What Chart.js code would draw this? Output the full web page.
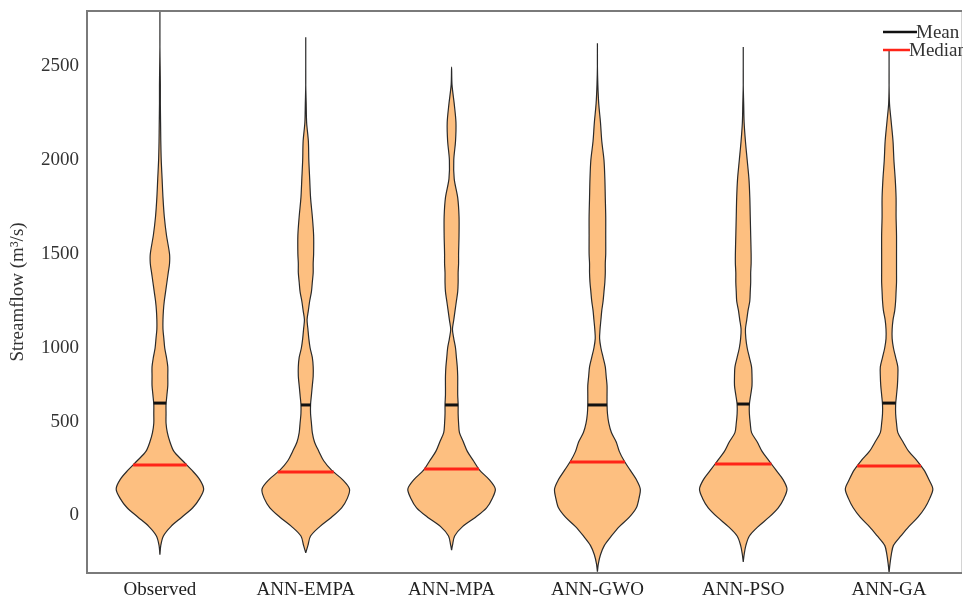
<!DOCTYPE html>
<html>
<head>
<meta charset="utf-8">
<title>Streamflow violin plot</title>
<script src="https://cdn.jsdelivr.net/npm/chart.js@4.4.1/dist/chart.umd.min.js"></script>
<style>
    body { margin: 0; background: #fff; }
    #wrap { width: 963px; height: 603px; }
</style>
</head>
<body>
<div id="wrap"><canvas id="violinChart" width="963" height="603"></canvas></div>
<script>
// models along the x axis
const categories = ['Observed', 'ANN-EMPA', 'ANN-MPA', 'ANN-GWO', 'ANN-PSO', 'ANN-GA'];

// streamflow levels (m3/s) at which the violin width was read
const levels = [
    -200, -150, -100, -50, 0, 50, 100, 150,
    200, 250, 300, 350, 400, 450, 500, 550,
    600, 650, 700, 750, 800, 850, 900, 950,
    1000, 1050, 1100, 1150, 1200, 1250, 1300, 1350,
    1400, 1450, 1500, 1600, 1700, 1800, 1900, 2000,
    2100, 2200, 2300, 2400, 2500, 2600, 2700, 2800
];

// relative density at each level (1 = widest part of the violin)
const densityObserved = [
    0, 0, 0, 0.02, 0.08, 0.25, 0.50, 0.75,
    0.91, 1.00, 0.91, 0.73, 0.52, 0.32, 0.23, 0.17,
    0.14, 0.14, 0.14, 0.16, 0.18, 0.18, 0.18, 0.15,
    0.11, 0.09, 0.07, 0.07, 0.08, 0.10, 0.13, 0.16,
    0.19, 0.22, 0.22, 0.15, 0.10, 0.07, 0.05, 0.03,
    0.02, 0.015, 0.01, 0.01, 0.005, 0, 0, 0
];
const densityEMPA = [
    0, 0, 0, 0.05, 0.11, 0.32, 0.59, 0.82,
    0.95, 1.00, 0.84, 0.59, 0.41, 0.30, 0.20, 0.15,
    0.13, 0.11, 0.11, 0.13, 0.15, 0.17, 0.17, 0.15,
    0.10, 0.07, 0.05, 0.03, 0.06, 0.09, 0.13, 0.15,
    0.17, 0.17, 0.18, 0.18, 0.15, 0.11, 0.09, 0.07,
    0.06, 0.02, 0.01, 0, 0, 0, 0, 0
];
const densityMPA = [
    0, 0, 0, 0.02, 0.07, 0.25, 0.55, 0.80,
    0.93, 1.00, 0.86, 0.64, 0.50, 0.36, 0.27, 0.18,
    0.16, 0.15, 0.15, 0.14, 0.14, 0.14, 0.13, 0.11,
    0.09, 0.05, 0.02, 0.05, 0.08, 0.11, 0.14, 0.15,
    0.15, 0.16, 0.16, 0.17, 0.17, 0.14, 0.06, 0.05,
    0.09, 0.10, 0.06, 0.01, 0, 0, 0, 0
];
const densityGWO = [
    0, 0.02, 0.07, 0.16, 0.32, 0.50, 0.73, 0.89,
    0.95, 0.98, 0.89, 0.75, 0.61, 0.50, 0.43, 0.32,
    0.26, 0.23, 0.22, 0.22, 0.22, 0.20, 0.18, 0.13,
    0.08, 0.05, 0.06, 0.08, 0.10, 0.13, 0.15, 0.17,
    0.18, 0.18, 0.19, 0.19, 0.19, 0.18, 0.17, 0.15,
    0.10, 0.07, 0.03, 0.01, 0, 0, 0, 0
];
const densityPSO = [
    0, 0, 0.02, 0.06, 0.14, 0.34, 0.59, 0.80,
    0.93, 1.00, 0.91, 0.75, 0.59, 0.43, 0.32, 0.19,
    0.16, 0.14, 0.14, 0.17, 0.20, 0.20, 0.19, 0.14,
    0.09, 0.06, 0.05, 0.08, 0.11, 0.15, 0.16, 0.17,
    0.17, 0.18, 0.18, 0.17, 0.16, 0.15, 0.13, 0.09,
    0.05, 0.02, 0.01, 0, 0, 0, 0, 0
];
const densityGA = [
    0, 0.02, 0.05, 0.10, 0.27, 0.45, 0.66, 0.82,
    0.93, 1.00, 0.91, 0.80, 0.64, 0.45, 0.32, 0.20,
    0.17, 0.15, 0.15, 0.17, 0.19, 0.20, 0.20, 0.15,
    0.10, 0.07, 0.07, 0.09, 0.13, 0.15, 0.16, 0.17,
    0.17, 0.17, 0.17, 0.17, 0.16, 0.16, 0.14, 0.11,
    0.09, 0.05, 0.01, 0, 0, 0, 0, 0
];

// tails, mean and median of each model
const minValues = [-100, -90, -75, -190, -138, -195];
const maxValues = [2800, 2654, 2495, 2622, 2601, 2585];
const meanValues = [707, 697, 697, 697, 702, 707];
const medianValues = [378, 340, 356, 394, 383, 372];

// y tick labels, placed where the figure prints them
const yTickValues = [112, 606, 1000, 1500, 2000, 2500];
const yTickLabels = ['0', '500', '1000', '1500', '2000', '2500'];

const legendLabels = ['Mean', 'Median'];

const densities = [densityObserved, densityEMPA, densityMPA, densityGWO, densityPSO, densityGA];
const HALF_WIDTH = 0.30;   // x-axis units for density 1
const FONT = '"Liberation Serif", "Times New Roman", serif';

function widthAt(dens, v) {
    for (let k = 0; k < levels.length - 1; k++) {
        if (v >= levels[k] && v <= levels[k + 1]) {
            const t = (v - levels[k]) / (levels[k + 1] - levels[k]);
            return (dens[k] + t * (dens[k + 1] - dens[k])) * HALF_WIDTH;
        }
    }
    return 0;
}

function violinOutline(i) {
    const dens = densities[i];
    const inner = levels
        .map((v, k) => ({ v: v, w: dens[k] * HALF_WIDTH }))
        .filter(p => p.v > minValues[i] && p.v < maxValues[i]);
    const right = inner.map(p => ({ x: i + p.w, y: p.v }));
    const left = inner.slice().reverse().map(p => ({ x: i - p.w, y: p.v }));
    return [{ x: i, y: minValues[i] }, ...right, { x: i, y: maxValues[i] }, ...left, { x: i, y: minValues[i] }];
}

function statLine(i, value, color) {
    const w = widthAt(densities[i], value);
    return {
        data: [{ x: i - w, y: value }, { x: i + w, y: value }],
        borderColor: color,
        borderWidth: 3,
        pointRadius: 0,
        fill: false,
        order: 1
    };
}

const datasets = [];
categories.forEach((name, i) => {
    datasets.push({
        label: name,
        data: violinOutline(i),
        borderColor: '#2a2a2a',
        borderWidth: 1.2,
        backgroundColor: '#FDBF80',
        fill: 'shape',
        tension: 0.3,
        pointRadius: 0,
        order: 2
    });
});
categories.forEach((name, i) => {
    datasets.push(statLine(i, meanValues[i], '#111111'));
    datasets.push(statLine(i, medianValues[i], '#FF2418'));
});

// frame around the plot and the small legend in the corner
const framePlugin = {
    id: 'frame',
    afterDraw(chart) {
        const { ctx, chartArea: a } = chart;
        ctx.save();
        ctx.strokeStyle = '#d4d4d4';
        ctx.lineWidth = 1;
        ctx.beginPath();
        ctx.moveTo(a.right - 0.5, a.top);
        ctx.lineTo(a.right - 0.5, a.bottom);
        ctx.stroke();
        ctx.strokeStyle = '#7a7a7a';
        ctx.lineWidth = 2;
        ctx.beginPath();
        ctx.moveTo(a.right, a.top);
        ctx.lineTo(a.left, a.top);
        ctx.lineTo(a.left, a.bottom);
        ctx.lineTo(a.right, a.bottom);
        ctx.stroke();

        const colors = ['#111111', '#FF2418'];
        const lineEnds = [a.right - 45, a.right - 52];
        ctx.font = '19px ' + FONT;
        ctx.textBaseline = 'middle';
        legendLabels.forEach((lab, k) => {
            const y = a.top + 21 + k * 18;
            ctx.strokeStyle = colors[k];
            ctx.lineWidth = 2.5;
            ctx.beginPath();
            ctx.moveTo(a.right - 79, y);
            ctx.lineTo(lineEnds[k], y);
            ctx.stroke();
            ctx.fillStyle = '#333';
            ctx.fillText(lab, lineEnds[k] - 1, y + 1);
        });
        ctx.restore();
    }
};

new Chart(document.getElementById('violinChart'), {
    type: 'line',
    data: { datasets: datasets },
    options: {
        responsive: false,
        animation: false,
        events: [],
        layout: { padding: { top: 11, right: 1, left: 0, bottom: 0 } },
        plugins: {
            legend: { display: false },
            tooltip: { enabled: false }
        },
        scales: {
            x: {
                type: 'linear',
                min: -0.5,
                max: 5.5,
                grid: { display: false, drawTicks: false },
                border: { display: false },
                afterBuildTicks: scale => {
                    scale.ticks = categories.map((c, i) => ({ value: i }));
                },
                afterFit: scale => {
                    scale.height = 30;
                    scale.paddingLeft = 0;
                    scale.paddingRight = 0;
                },
                ticks: {
                    padding: 6,
                    maxRotation: 0,
                    autoSkip: false,
                    color: '#222',
                    font: { family: FONT, size: 19 },
                    callback: (value, index) => categories[index]
                }
            },
            y: {
                type: 'linear',
                min: -197,
                max: 2793,
                grid: { display: false, drawTicks: false },
                border: { display: false },
                afterBuildTicks: scale => {
                    scale.ticks = yTickValues.map(v => ({ value: v }));
                },
                afterFit: scale => {
                    scale.width = 87;
                    scale.paddingTop = 0;
                    scale.paddingBottom = 0;
                },
                ticks: {
                    padding: 8,
                    color: '#333',
                    font: { family: FONT, size: 19 },
                    callback: (value, index) => yTickLabels[index]
                },
                title: {
                    display: true,
                    text: 'Streamflow (m³/s)',
                    color: '#333',
                    padding: { top: 7, bottom: 0 },
                    font: { family: FONT, size: 19 }
                }
            }
        }
    },
    plugins: [framePlugin]
});
</script>
</body>
</html>
